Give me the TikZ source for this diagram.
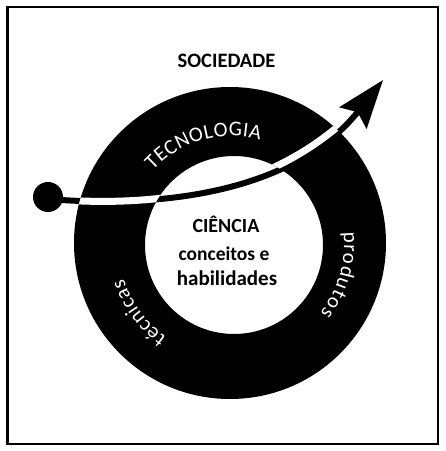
\documentclass[tikz,border=0pt]{standalone}
\usepackage{fontspec}
\setmainfont{Carlito}
\usetikzlibrary{arrows.meta,decorations.text}
\begin{document}
\begin{tikzpicture}[x=1pt,y=1pt,
  ringtext/.style={decorate,decoration={text along path,
      text align=fit to path, text color=white}},
  bigbold/.style={font=\fontsize{20}{20}\selectfont\bfseries, anchor=base, inner sep=0pt},
  frameline/.style={draw=black, line width=2.6pt}
]
\useasboundingbox (0,0) rectangle (446,-451);
% frame
\draw[frameline] (7.5,-7) rectangle (438,-444);
% centres
\coordinate (O) at (230,-243);
\coordinate (I) at (234,-245);
\coordinate (C) at (232,-244);
% ring
\fill[black, even odd rule] (O) circle[radius=156] (I) circle[radius=89];
% arrow start and end
\coordinate (start) at (48,-199);
\coordinate (tip) at (383,-80);
\coordinate (c1) at (180,-210);
\coordinate (c2) at (300,-185);
\draw[black, line width=6pt, -{Stealth[length=48pt,width=34pt,inset=7pt]}]
  (start) .. controls (c1) and (c2) .. (tip);
\node[circle, fill=black, minimum size=30pt, inner sep=0pt] (dot) at (48,-197) {};
% white band within the ring
\begin{scope}[even odd rule]
  \clip (O) circle[radius=156] (I) circle[radius=89];
  \draw[white, line width=7pt] (start) .. controls (c1) and (c2) .. (tip);
\end{scope}
% texts
\node[bigbold, font=\fontsize{20.5}{20.5}\selectfont\bfseries] (soc) at (226.5,-67) {SOCIEDADE};
\node[bigbold] (cien) at (226,-232) {CIÊNCIA};
\node[bigbold, font=\fontsize{19.5}{19.5}\selectfont\bfseries] (conc) at (224,-260) {conceitos e};
\node[bigbold, font=\fontsize{21}{21}\selectfont\bfseries] (hab) at (227,-285) {habilidades};
% ring texts
\path[ringtext, decoration={text={|\fontsize{21}{21}\selectfont|TECNOLOGIA}}]
  ([shift={(137:108)}]C) arc[start angle=137, end angle=75, radius=108];
\path[ringtext, decoration={text={|\fontsize{21}{21}\selectfont|técnicas}}]
  ([shift={(235:114)}]C) arc[start angle=235, end angle=198, radius=114];
\path[ringtext, decoration={text={|\fontsize{21}{21}\selectfont|produtos}}]
  ([shift={(6:112)}]C) arc[start angle=6, end angle=-38, radius=112];
\end{tikzpicture}
\end{document}
